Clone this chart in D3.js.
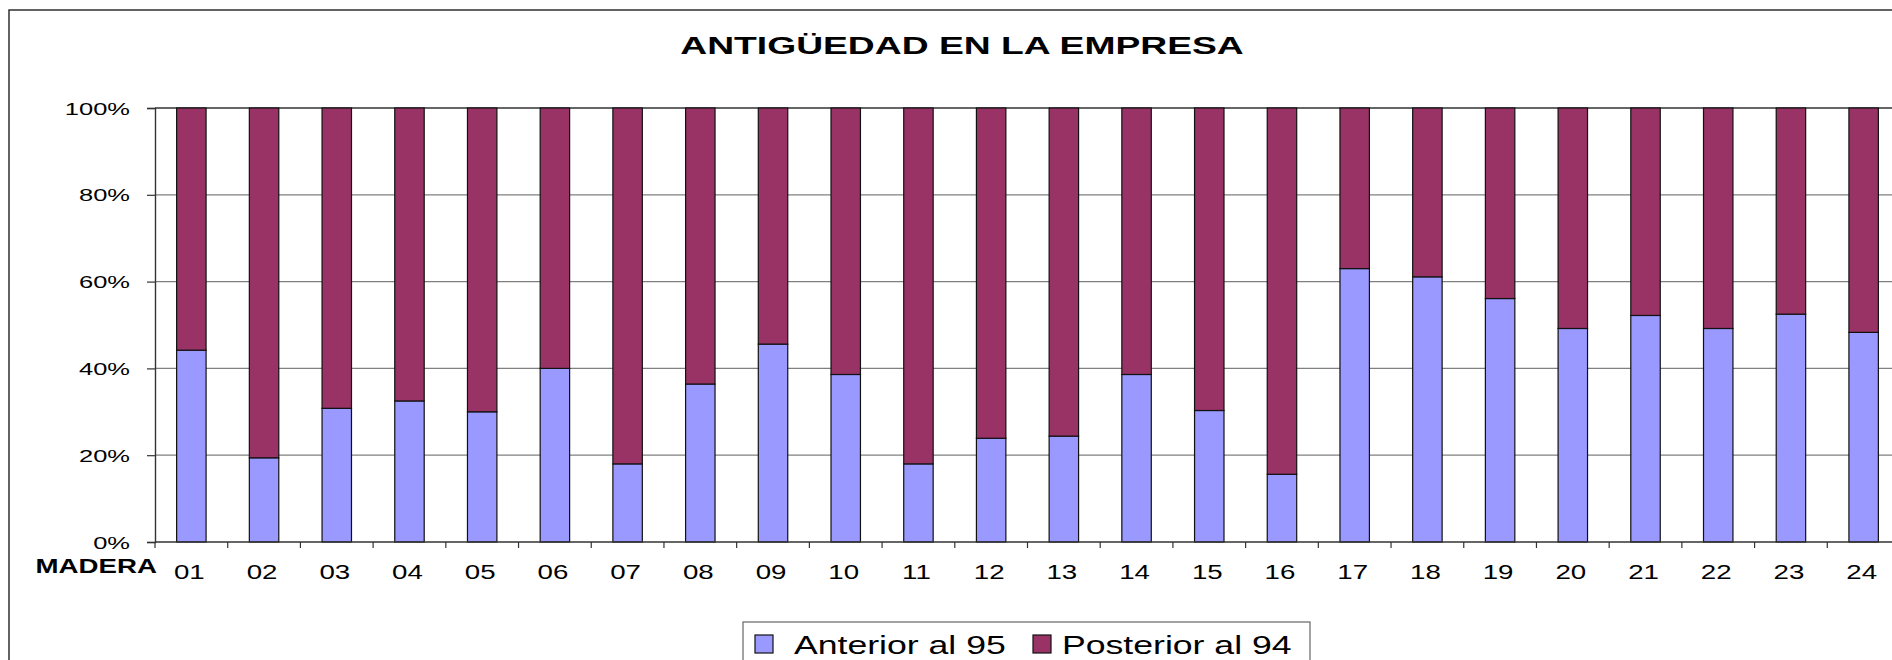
<!DOCTYPE html>
<html>
<head>
<meta charset="utf-8">
<script src="https://cdn.jsdelivr.net/npm/d3@7"></script>
<style>
  body { margin: 0; background: #fff; }
  svg { display: block; font-family: "Liberation Sans", Arial, sans-serif; }
</style>
</head>
<body>
<svg id="chart" width="1892" height="660"></svg>
<script>
// datos (porcentajes)
let categories = ["01","02","03","04","05","06","07","08","09","10","11","12",
                  "13","14","15","16","17","18","19","20","21","22","23","24"];
let anterior  = [44.2, 19.4, 30.8, 32.5, 30.0, 40.0, 18.0, 36.4, 45.6, 38.6, 18.0, 23.9,
                 24.4, 38.6, 30.3, 15.6, 63.0, 61.1, 56.1, 49.2, 52.2, 49.2, 52.5, 48.3];
let posterior = [55.8, 80.6, 69.2, 67.5, 70.0, 60.0, 82.0, 63.6, 54.4, 61.4, 82.0, 76.1,
                 75.6, 61.4, 69.7, 84.4, 37.0, 38.9, 43.9, 50.8, 47.8, 50.8, 47.5, 51.7];
let seriesNames = ["Anterior al 95", "Posterior al 94"];
let yTicks = [0, 0.2, 0.4, 0.6, 0.8, 1];

let colors = ["#9999ff", "#993366"];
let margin = {top: 108, left: 155, bottom: 542, right: 1900};

let svg = d3.select("#chart");

// texto estirado en horizontal como en la imagen original
function stretchText(g, x, y, txt, size, sx, anchor, weight) {
  return g.append("text")
    .attr("transform", `translate(${x},${y}) scale(${sx},1)`)
    .attr("text-anchor", anchor || "start")
    .attr("font-size", size)
    .attr("font-weight", weight || "normal")
    .attr("fill", "#000")
    .text(txt);
}

// marco del grafico
svg.append("rect")
  .attr("x", 9).attr("y", 10)
  .attr("width", 1950).attr("height", 700)
  .attr("fill", "#fff")
  .attr("stroke", "#222").attr("stroke-width", 1.4);

stretchText(svg, 962, 54, "ANTIGÜEDAD EN LA EMPRESA", 24.5, 1.52, "middle", "bold");

let rows = categories.map((c, i) => ({cat: c, anterior: anterior[i], posterior: posterior[i]}));
let stack = d3.stack()
  .keys(["anterior", "posterior"])
  .offset(d3.stackOffsetExpand);
let series = stack(rows);

let x = d3.scaleBand()
  .domain(categories)
  .range([margin.left, margin.right])
  .paddingInner(0.595)
  .paddingOuter(0.2975);
let y = d3.scaleLinear([0, 1], [margin.bottom, margin.top]);

// lineas de division
svg.append("g")
  .selectAll("line")
  .data(yTicks.filter(d => d > 0))
  .join("line")
  .attr("x1", margin.left).attr("x2", margin.right)
  .attr("y1", d => y(d)).attr("y2", d => y(d))
  .attr("stroke", d => d === 1 ? "#333" : "#808080")
  .attr("stroke-width", d => d === 1 ? 1.6 : 1.2);

// barras apiladas
svg.append("g")
  .selectAll("g")
  .data(series)
  .join("g")
  .attr("fill", (d, i) => colors[i])
  .selectAll("rect")
  .data(d => d)
  .join("rect")
  .attr("x", d => x(d.data.cat))
  .attr("width", x.bandwidth())
  .attr("y", d => y(d[1]))
  .attr("height", d => y(d[0]) - y(d[1]))
  .attr("stroke", "#111")
  .attr("stroke-width", 1.2);

// eje Y
let yAxis = svg.append("g")
  .attr("transform", `translate(${margin.left},0)`)
  .call(d3.axisLeft(y).tickValues(yTicks).tickFormat(d3.format(".0%")).tickSize(8));
yAxis.select(".domain").attr("stroke", "#333").attr("stroke-width", 1.4);
yAxis.selectAll(".tick line").attr("stroke", "#333").attr("stroke-width", 1.2);
yAxis.selectAll(".tick text")
  .attr("font-family", null)
  .attr("font-size", 17)
  .attr("x", -25 / 1.5)
  .attr("dy", "0.36em")
  .attr("transform", "scale(1.5,1)");

// eje X
let xg = svg.append("g").attr("transform", `translate(0,${margin.bottom})`);
xg.append("line")
  .attr("x1", margin.left).attr("x2", margin.right)
  .attr("stroke", "#333").attr("stroke-width", 1.4);
xg.selectAll("line.tk")
  .data(categories)
  .join("line")
  .attr("class", "tk")
  .attr("x1", d => x(d) + x.bandwidth() / 2 - x.step() / 2)
  .attr("x2", d => x(d) + x.bandwidth() / 2 - x.step() / 2)
  .attr("y1", 0).attr("y2", 6)
  .attr("stroke", "#333").attr("stroke-width", 1.2);
categories.forEach(c => {
  stretchText(xg, x(c) + x.bandwidth() / 2 - 2, 36.5, c, 19.5, 1.42, "middle");
});
stretchText(svg, 157, 573, "MADERA", 19.5, 1.42, "end", "bold");

// leyenda
let legend = svg.append("g");
legend.append("rect")
  .attr("x", 743).attr("y", 622)
  .attr("width", 567).attr("height", 70)
  .attr("fill", "#fff")
  .attr("stroke", "#666").attr("stroke-width", 1.2);
let legendX = [[755, 794], [1033, 1062]];
seriesNames.forEach((name, i) => {
  legend.append("rect")
    .attr("x", legendX[i][0]).attr("y", 635)
    .attr("width", 18).attr("height", 18)
    .attr("fill", colors[i])
    .attr("stroke", "#111").attr("stroke-width", 1.2);
  stretchText(legend, legendX[i][1], 654, name, 26, 1.37, "start");
});
</script>
</body>
</html>
